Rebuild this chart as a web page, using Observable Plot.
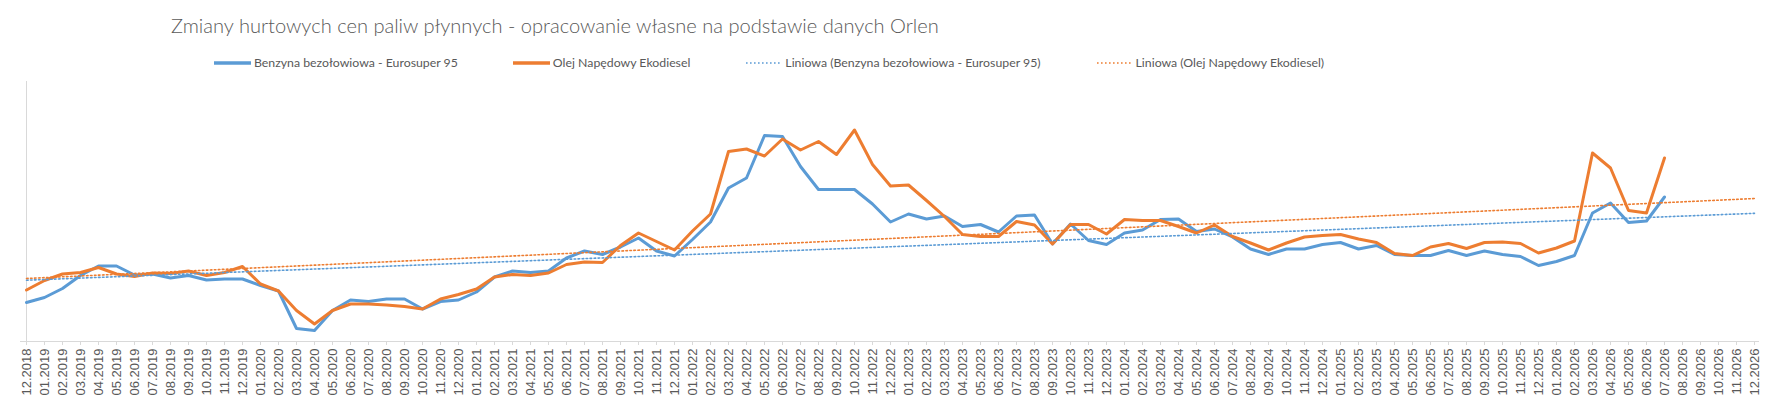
<!DOCTYPE html>
<html>
<head>
<meta charset="utf-8">
<script src="https://cdn.jsdelivr.net/npm/d3@7"></script>
<script src="https://cdn.jsdelivr.net/npm/@observablehq/plot@0.6"></script>
<style>
  body { margin: 0; background: #fff; }
  #wrap { position: relative; width: 1779px; height: 400px; overflow: hidden; background: #fff; }
  #head { position: relative; width: 1779px; height: 75px; }
  #title { position: absolute; left: 171px; top: 12px; font-family: "Lato", "Open Sans", sans-serif; font-weight: 300; font-size: 21px; line-height: 26px; color: #595959; white-space: nowrap; }
  #legend { position: absolute; left: 214px; top: 55px; display: flex; align-items: center; font-family: "Lato", "Open Sans", sans-serif; font-size: 12.5px; line-height: 16px; color: #595959; white-space: nowrap; }
  .item { display: flex; align-items: center; margin-right: 55px; }
  .item svg { margin-right: 3px; }
</style>
</head>
<body>
<div id="wrap">
  <div id="head">
    <div id="title"></div>
    <div id="legend"></div>
  </div>
  <div id="chart"></div>
</div>
<script>
const titleText = "Zmiany hurtowych cen paliw płynnych - opracowanie własne na podstawie danych Orlen";

const months = [
  "12.2018",
  "01.2019","02.2019","03.2019","04.2019","05.2019","06.2019","07.2019","08.2019","09.2019","10.2019","11.2019","12.2019",
  "01.2020","02.2020","03.2020","04.2020","05.2020","06.2020","07.2020","08.2020","09.2020","10.2020","11.2020","12.2020",
  "01.2021","02.2021","03.2021","04.2021","05.2021","06.2021","07.2021","08.2021","09.2021","10.2021","11.2021","12.2021",
  "01.2022","02.2022","03.2022","04.2022","05.2022","06.2022","07.2022","08.2022","09.2022","10.2022","11.2022","12.2022",
  "01.2023","02.2023","03.2023","04.2023","05.2023","06.2023","07.2023","08.2023","09.2023","10.2023","11.2023","12.2023",
  "01.2024","02.2024","03.2024","04.2024","05.2024","06.2024","07.2024","08.2024","09.2024","10.2024","11.2024","12.2024",
  "01.2025","02.2025","03.2025","04.2025","05.2025","06.2025","07.2025","08.2025","09.2025","10.2025","11.2025","12.2025",
  "01.2026","02.2026","03.2026","04.2026","05.2026","06.2026","07.2026","08.2026","09.2026","10.2026","11.2026","12.2026"
];

// Benzyna bezołowiowa - Eurosuper 95 (12.2018 – 07.2026)
const benzyna = [
  3780,
  3880,4060,4320,4510,4510,4330,4350,4270,4320,4230,4250,4250,
  4120,4010,3260,3220,3620,3830,3800,3850,3850,3650,3800,3830,
  3990,4290,4410,4380,4410,4670,4810,4740,4890,5070,4810,4710,
  5040,5390,6070,6270,7120,7100,6500,6040,6040,6040,5750,5390,
  5550,5450,5510,5300,5340,5190,5510,5530,4950,5350,5020,4940,
  5170,5230,5440,5450,5200,5250,5090,4850,4740,4850,4850,4940,
  4980,4850,4920,4740,4720,4720,4820,4720,4810,4740,4700,4520,
  4600,4720,5570,5770,5380,5410,5890
];

// Olej Napędowy Ekodiesel (12.2018 – 07.2026)
const diesel = [
  4030,
  4220,4350,4380,4480,4350,4300,4370,4360,4410,4320,4380,4500,
  4150,4010,3620,3350,3620,3750,3750,3730,3700,3650,3850,3940,
  4050,4290,4340,4320,4370,4540,4590,4580,4920,5170,5000,4830,
  5210,5550,6800,6850,6710,7050,6830,7000,6740,7230,6540,6110,
  6130,5820,5500,5140,5100,5100,5400,5330,4950,5340,5340,5150,
  5440,5420,5420,5300,5170,5330,5100,4970,4830,4970,5090,5120,
  5140,5050,4980,4760,4720,4890,4960,4860,4980,4990,4960,4770,
  4870,5010,6770,6470,5620,5570,6670
];

const seriesNames = ["Benzyna bezołowiowa - Eurosuper 95", "Olej Napędowy Ekodiesel"];
const trendNames = ["Liniowa (Benzyna bezołowiowa - Eurosuper 95)", "Liniowa (Olej Napędowy Ekodiesel)"];
const colors = ["#5B9BD5", "#ED7D31"];

const toRows = (vals) => vals.map((v, i) => ({month: months[i], value: v}));

// Linear least-squares trend (like Excel "Liniowa"), extended across the whole category axis
function trendRows(vals) {
  const n = vals.length;
  const xs = vals.map((_, i) => i);
  const mx = d3.mean(xs), my = d3.mean(vals);
  let sxy = 0, sxx = 0;
  for (let i = 0; i < n; i++) { sxy += (xs[i] - mx) * (vals[i] - my); sxx += (xs[i] - mx) ** 2; }
  const b = sxy / sxx, a = my - b * mx;
  const last = months.length - 1;
  return [{month: months[0], value: a}, {month: months[last], value: a + b * last}];
}

const series = [benzyna, diesel];

const chart = Plot.plot({
  width: 1779,
  height: 325,
  marginTop: 6,
  marginBottom: 59,
  marginLeft: 20,
  marginRight: 20,
  style: {fontFamily: "'Liberation Sans', Arial, sans-serif", fontSize: "13px", background: "transparent", overflow: "visible"},
  x: {type: "point", domain: months, padding: 0, label: null},
  y: {domain: [3000, 8200], axis: null},
  marks: [
    Plot.ruleX([months[0]], {stroke: "#d9d9d9", strokeWidth: 1}),
    Plot.ruleY([3000], {stroke: "#d9d9d9", strokeWidth: 1}),
    Plot.axisX({tickSize: 4, tickPadding: 3, tickRotate: -90, stroke: "#d9d9d9", fill: "#595959", fontSize: 13, label: null}),
    ...series.map((s, k) => Plot.line(toRows(s), {x: "month", y: "value", stroke: colors[k], strokeWidth: 3, strokeLinejoin: "round", strokeLinecap: "round"})),
    ...series.map((s, k) => Plot.line(trendRows(s), {x: "month", y: "value", stroke: colors[k], strokeWidth: 1.6, strokeDasharray: "1.6,2.4"}))
  ]
});
document.getElementById("chart").appendChild(chart);

// Title
const titleEl = document.getElementById("title");
titleEl.textContent = titleText;
{
  const target = 768;
  const w = titleEl.getBoundingClientRect().width;
  titleEl.style.fontSize = (21 * target / w).toFixed(2) + "px";
}

// Legend
const legendEl = document.getElementById("legend");
const legendItems = [
  {name: seriesNames[0], color: colors[0], dotted: false},
  {name: seriesNames[1], color: colors[1], dotted: false},
  {name: trendNames[0], color: colors[0], dotted: true},
  {name: trendNames[1], color: colors[1], dotted: true}
];
const textSpans = [];
legendItems.forEach(it => {
  const item = document.createElement("div");
  item.className = "item";
  const sw = it.dotted
    ? `<svg width="37" height="6"><line x1="1" y1="3" x2="36" y2="3" stroke="${it.color}" stroke-width="1.6" stroke-dasharray="1.6,2.4"/></svg>`
    : `<svg width="37" height="6"><line x1="0" y1="3" x2="37" y2="3" stroke="${it.color}" stroke-width="3.5"/></svg>`;
  item.innerHTML = sw;
  const span = document.createElement("span");
  span.textContent = it.name;
  item.appendChild(span);
  legendEl.appendChild(item);
  textSpans.push(span);
});
{
  const target = 204;
  const w = textSpans[0].getBoundingClientRect().width;
  legendEl.style.fontSize = (12.5 * target / w).toFixed(2) + "px";
}
</script>
</body>
</html>
